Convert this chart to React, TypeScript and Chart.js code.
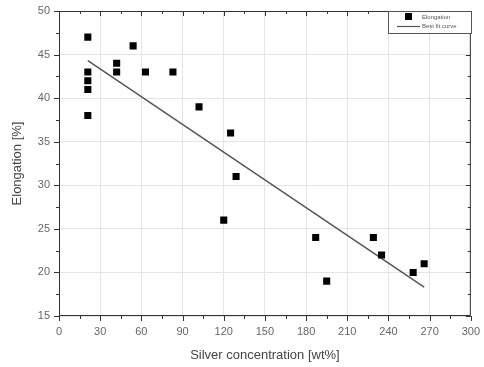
import React, { useEffect, useRef } from "react";
import { Chart, registerables } from "chart.js";

Chart.register(...registerables);

const silverX = [21, 21, 21, 21, 21, 42, 42, 54, 63, 83, 102, 125, 129, 120, 187, 195, 229, 235, 258, 266];
const elongationY = [47, 43, 42, 41, 38, 44, 43, 46, 43, 43, 39, 36, 31, 26, 24, 19, 24, 22, 20, 21];
const fitX = [21, 266];
const fitY = [44.3, 18.3];
const seriesNames = ["Elongation", "Best fit curve"];
const xTitle = "Silver concentration [wt%]";
const yTitle = "Elongation [%]";

const FONT = "'Liberation Sans', Arial, sans-serif";

const framePlugin = {
  id: "frame",
  afterDraw(chart: any) {
    const { ctx, chartArea: a, scales } = chart;
    const xs = scales.x;
    const ys = scales.y;
    ctx.save();
    ctx.strokeStyle = "#333";
    ctx.lineWidth = 1;
    ctx.strokeRect(a.left + 0.5, a.top + 0.5, a.right - a.left - 1, a.bottom - a.top - 1);
    ctx.beginPath();
    for (let v = 0; v <= 300; v += 15) {
      const px = Math.round(xs.getPixelForValue(v)) + 0.5;
      const len = v % 30 === 0 ? 5 : 3;
      ctx.moveTo(px, a.bottom);
      ctx.lineTo(px, a.bottom + len);
      ctx.moveTo(px, a.top);
      ctx.lineTo(px, a.top + len);
    }
    for (let v = 15; v <= 50; v += 2.5) {
      const py = Math.round(ys.getPixelForValue(v)) + 0.5;
      const len = v % 5 === 0 ? 5 : 3;
      ctx.moveTo(a.left, py);
      ctx.lineTo(a.left - len, py);
      ctx.moveTo(a.right, py);
      ctx.lineTo(a.right - len, py);
    }
    ctx.stroke();
    const lx = 388, ly = 11, lw = 83, lh = 22;
    ctx.fillStyle = "#fff";
    ctx.fillRect(lx, ly, lw, lh);
    ctx.strokeStyle = "#555";
    ctx.strokeRect(lx + 0.5, ly + 0.5, lw, lh);
    ctx.fillStyle = "#000";
    ctx.fillRect(405, 13, 7, 7);
    ctx.lineWidth = 1.2;
    ctx.beginPath();
    ctx.moveTo(397, 26.5);
    ctx.lineTo(420, 26.5);
    ctx.stroke();
    ctx.fillStyle = "#555";
    ctx.font = `6px ${FONT}`;
    ctx.textBaseline = "middle";
    ctx.textAlign = "left";
    ctx.fillText(seriesNames[0], 422, 17);
    ctx.fillText(seriesNames[1], 422, 26);
    ctx.restore();
  },
};

export default function App() {
  const ref = useRef<HTMLCanvasElement>(null);
  useEffect(() => {
    const chart = new Chart(ref.current as HTMLCanvasElement, {
      type: "scatter",
      data: {
        datasets: [
          {
            label: seriesNames[0],
            data: silverX.map((x, i) => ({ x, y: elongationY[i] })),
            pointStyle: "rect",
            pointRadius: 5,
            backgroundColor: "#000",
            borderColor: "#000",
            borderWidth: 0,
          },
          {
            label: seriesNames[1],
            type: "line",
            data: fitX.map((x, i) => ({ x, y: fitY[i] })),
            borderColor: "#555",
            borderWidth: 1.5,
            pointRadius: 0,
            showLine: true,
            fill: false,
          } as any,
        ],
      },
      options: {
        animation: false,
        responsive: false,
        layout: { padding: { left: 0, right: 11, top: 11, bottom: 0 } },
        plugins: { legend: { display: false }, tooltip: { enabled: false } },
        scales: {
          x: {
            type: "linear",
            min: 0,
            max: 300,
            ticks: { stepSize: 30, color: "#666", font: { family: FONT, size: 11 }, padding: 4 },
            grid: { color: "#e4e4e4", drawTicks: true, tickLength: 5, tickColor: "transparent" },
            border: { display: false },
            title: { display: true, text: xTitle, color: "#444", font: { family: FONT, size: 13 }, padding: { top: 4 } },
            afterFit: (s: any) => { s.height = 51; },
          },
          y: {
            type: "linear",
            min: 15,
            max: 50,
            ticks: { stepSize: 5, color: "#666", font: { family: FONT, size: 11 }, padding: 4 },
            grid: { color: "#e4e4e4", drawTicks: true, tickLength: 5, tickColor: "transparent" },
            border: { display: false },
            title: { display: true, text: yTitle, color: "#444", font: { family: FONT, size: 13 }, padding: { top: 10, bottom: 6 } },
            afterFit: (s: any) => { s.width = 59; },
          },
        },
      } as any,
      plugins: [framePlugin],
    });
    return () => chart.destroy();
  }, []);
  return (
    <div style={{ position: "fixed", left: 0, top: 0, width: 484, height: 367, background: "#fff" }}>
      <canvas ref={ref} width={484} height={367} style={{ width: 484, height: 367 }} />
    </div>
  );
}
